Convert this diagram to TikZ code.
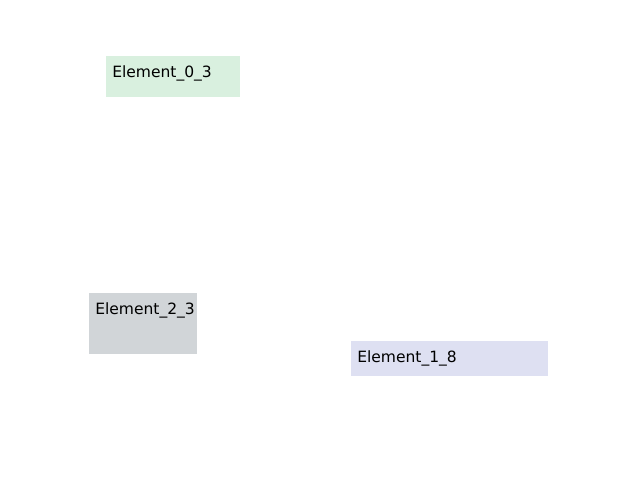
\documentclass[tikz,border=0pt]{standalone}
\usepackage{fontspec}
\setmainfont{DejaVu Sans}
\usetikzlibrary{calc}
\definecolor{boxgreen}{HTML}{D9F0DF}
\definecolor{boxgray}{HTML}{D1D5D8}
\definecolor{boxlav}{HTML}{DEE0F2}
\tikzset{
  elbox/.style={draw=none, inner sep=0pt, outer sep=0pt, anchor=north west},
  ellabel/.style={anchor=base west, inner sep=0pt, font=\fontsize{11.65pt}{13pt}\selectfont, text=black}
}
\begin{document}
\begin{tikzpicture}[x=0.75pt, y=-0.75pt]
\useasboundingbox[fill=white] (0,0) rectangle (640,480);
\node[elbox, fill=boxgreen, minimum width=134*0.75pt, minimum height=41*0.75pt] (e03) at (106,56) {};
\node[ellabel] (e03t) at ($(e03.north west)+(6,21)$) {Element\_0\_3};
\node[elbox, fill=boxgray, minimum width=108*0.75pt, minimum height=61*0.75pt] (e23) at (89,293) {};
\node[ellabel] (e23t) at ($(e23.north west)+(6,21)$) {Element\_2\_3};
\node[elbox, fill=boxlav, minimum width=197*0.75pt, minimum height=35*0.75pt] (e18) at (351,341) {};
\node[ellabel] (e18t) at ($(e18.north west)+(6,21.5)$) {Element\_1\_8};
\end{tikzpicture}
\end{document}
